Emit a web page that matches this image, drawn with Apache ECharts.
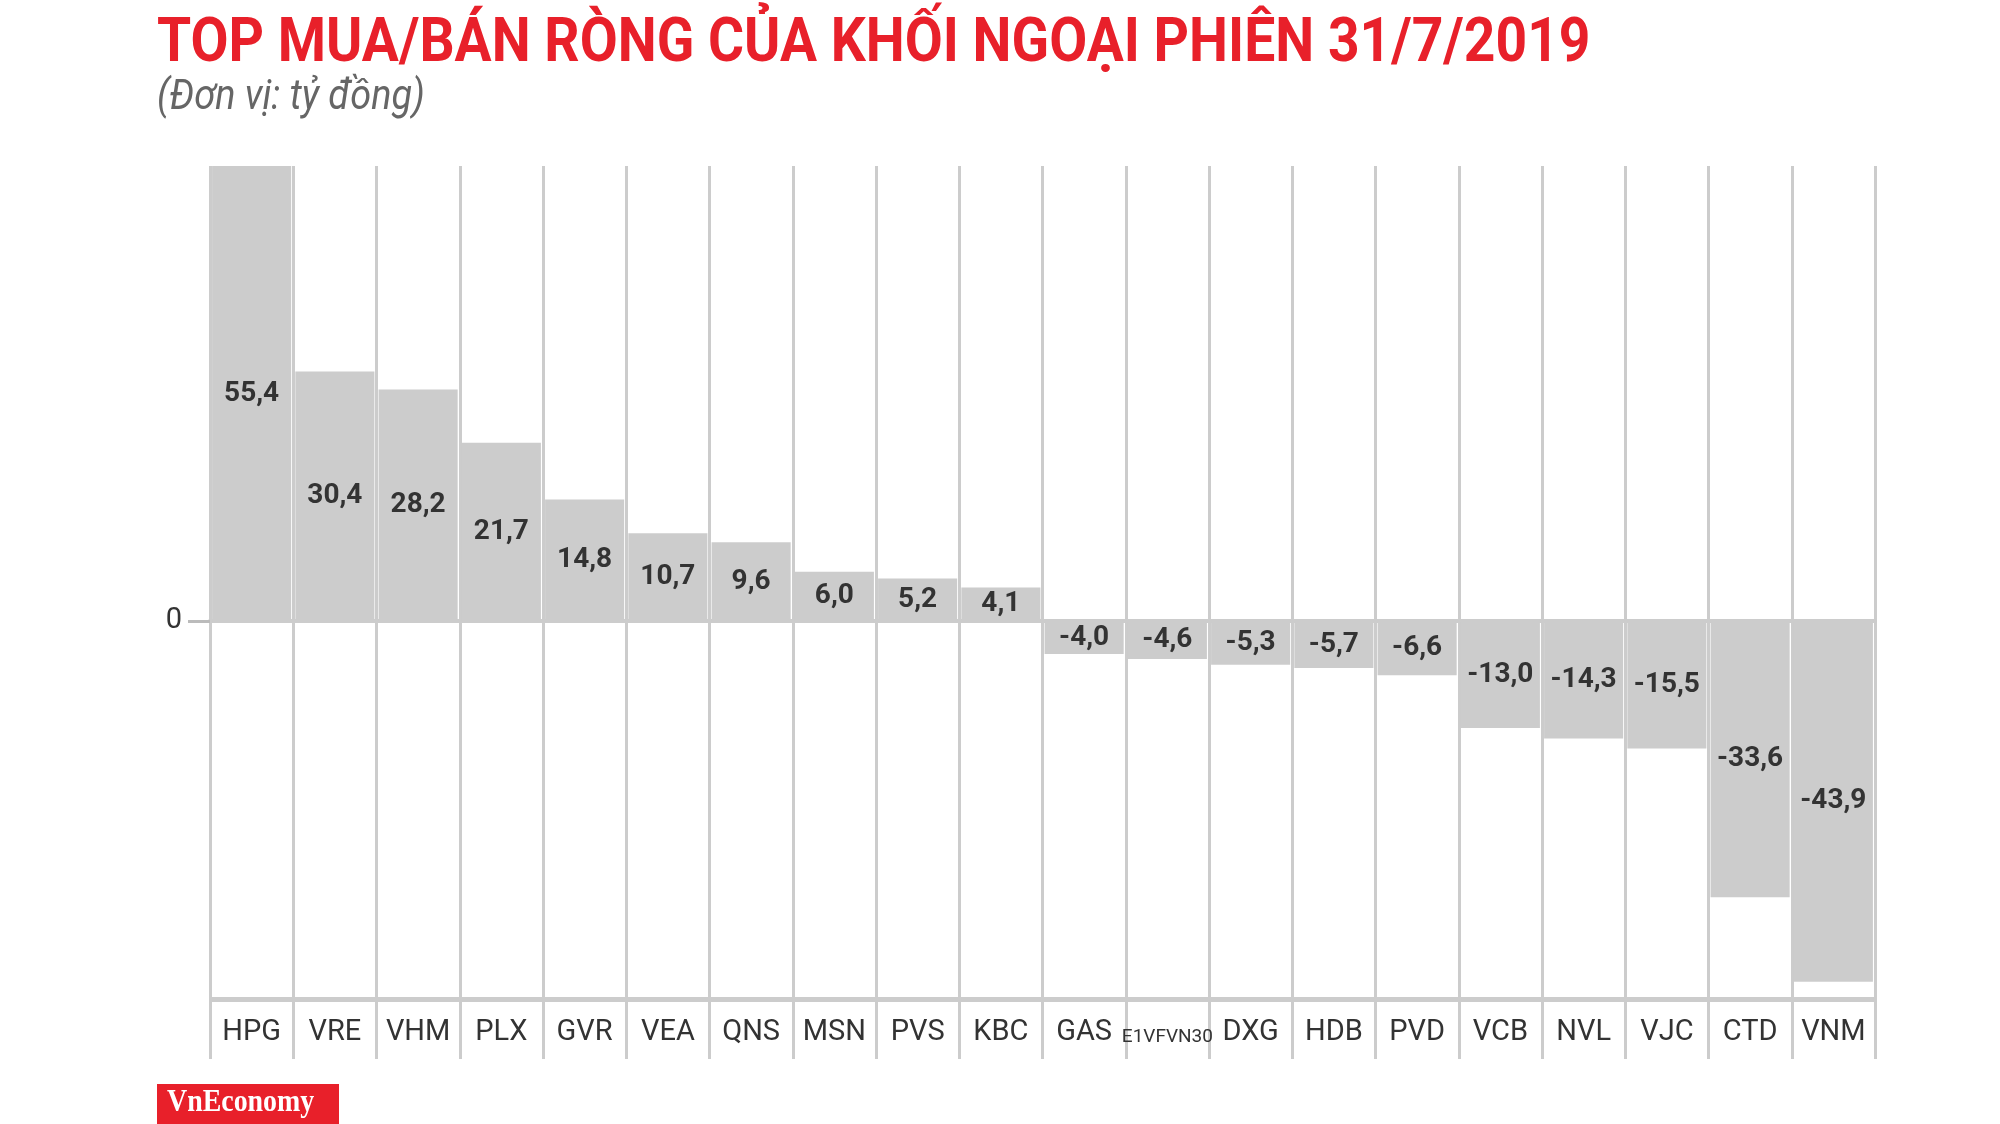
<!DOCTYPE html>
<html><head><meta charset="utf-8">
<script src="https://cdn.jsdelivr.net/npm/echarts@6/dist/echarts.min.js"></script>
<style>html,body{margin:0;padding:0;background:#fff}#chart{width:2000px;height:1124px}</style>
</head><body><div id="chart"></div>
<script>
var categories = ["HPG","VRE","VHM","PLX","GVR","VEA","QNS","MSN","PVS","KBC","GAS","E1VFVN30","DXG","HDB","PVD","VCB","NVL","VJC","CTD","VNM"];
var values = [55.4,30.4,28.2,21.7,14.8,10.7,9.6,6.0,5.2,4.1,-4.0,-4.6,-5.3,-5.7,-6.6,-13.0,-14.3,-15.5,-33.6,-43.9];

var chart = echarts.init(document.getElementById('chart'));
chart.setOption({
  animation: false,
  grid: {left: 210, right: 125, top: 166, bottom: 65},
  xAxis: {
    type: 'category', data: categories,
    axisLine: {lineStyle: {color: '#cccccc', width: 4}},
    axisTick: {show: false},
    axisLabel: {inside: true, interval: 0, margin: 12, color: '#333', fontSize: 29, fontFamily: 'Roboto', align: 'center',
      formatter: function (v) { return v === 'E1VFVN30' ? '{s|' + v + '}' : v; },
      rich: {s: {fontSize: 19, fontFamily: 'Roboto', color: '#333'}}},
    splitLine: {show: true, interval: 0, lineStyle: {color: '#cccccc', width: 3}}
  },
  yAxis: {
    type: 'value', min: -53.3, max: 55.4,
    splitLine: {show: false}, axisLine: {show: false},
    axisTick: {show: true, customValues: [0], length: 22, lineStyle: {color: '#bbbbbb', width: 3}},
    axisLabel: {customValues: [0], color: '#333', fontSize: 29, fontFamily: 'Roboto', margin: 28}
  },
  series: [{
    type: 'bar', data: values, barCategoryGap: '5%',
    itemStyle: {color: '#cccccc'},
    label: {show: true, position: 'inside', color: '#333', fontSize: 28, fontWeight: 'bold', fontFamily: 'Roboto',
      formatter: function (p) { return p.value.toFixed(1).replace('.', ','); }},
    markLine: {silent: true, symbol: 'none', label: {show: false},
      lineStyle: {color: '#cccccc', width: 5, type: 'solid'},
      data: [{yAxis: -46}]}
  }],
  graphic: [
    {type: 'text', left: 157, top: 14, scaleX: 0.89, style: {text: 'TOP MUA/BÁN RÒNG CỦA KHỐI NGOẠI PHIÊN 31/7/2019', fill: '#e8202a', font: 'bold 62px Roboto'}},
    {type: 'text', left: 157, top: 77, scaleX: 0.9, style: {text: '(Đơn vị: tỷ đồng)', fill: '#666', font: 'italic 42px Roboto'}},
    {type: 'rect', left: 157, top: 1084, shape: {width: 182, height: 40}, style: {fill: '#e8202a'}},
    {type: 'text', left: 167, top: 1087, scaleX: 0.9, style: {text: 'VnEconomy', fill: '#fff', font: 'bold 31px "Liberation Serif"'}}
  ]
});
</script></body></html>
